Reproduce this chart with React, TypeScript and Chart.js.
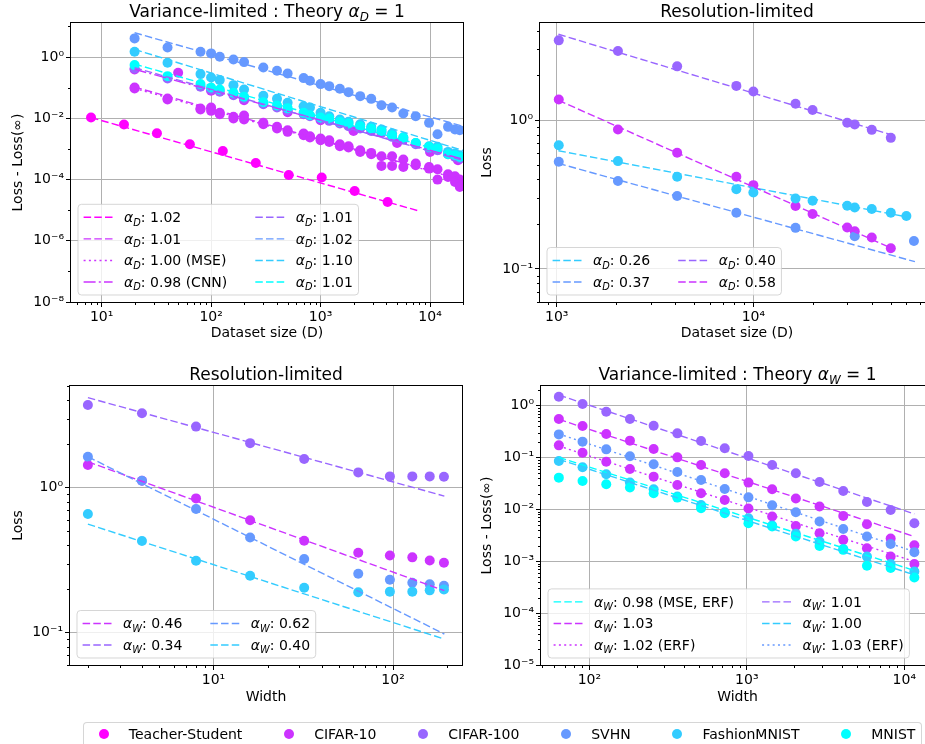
import React, { useEffect, useRef } from 'react';
import { Chart, registerables } from 'chart.js';

Chart.register(...registerables);

const FONT = '"DejaVu Sans", sans-serif';

// colours (matplotlib "cool" colormap, one per dataset)
const C_TS = '#ff00ff';
const C_C10 = '#cc33ff';
const C_C100 = '#9966ff';
const C_SVHN = '#6699ff';
const C_FMN = '#33ccff';
const C_MN = '#00ffff';

const legendNames = ['Teacher-Student', 'CIFAR-10', 'CIFAR-100', 'SVHN', 'FashionMNIST', 'MNIST'];
const legendColors = [C_TS, C_C10, C_C100, C_SVHN, C_FMN, C_MN];

// ---------- Top-left : variance-limited, dataset size ----------
const tlTeacherD = [8, 16, 32, 64, 128, 256, 512, 1024, 2048, 4096];
const tlTeacherLoss = [0.0106, 0.00627, 0.00327, 0.00143, 0.00086, 0.000349, 0.000141, 0.000116, 0.0000424, 0.0000185];
const tlD = [20, 40, 80, 100, 120, 160, 200, 300, 400, 500, 700, 800, 1000, 1200, 1500, 1800, 2300, 2900, 3600, 4500, 5700, 7400, 9800, 11700, 14600, 16900, 18700];
const tlCifar10 = [0.1018, 0.0444, 0.0209, 0.0226, 0.0151, 0.01117, 0.01235, 0.00711, 0.00526, 0.00409, 0.00318, 0.00261, 0.00218, 0.00193, 0.00143, 0.00122, 0.000906, 0.000742, 0.000577, 0.000577, 0.000449, 0.000332, 0.000258, 0.000217, 0.000149, 0.000128, 0.0000995];
const tlCifar10Mse = [0.0944, 0.0412, 0.0194, 0.01755, 0.01365, 0.00985, 0.00914, 0.00643, 0.00464, 0.00361, 0.00281, 0.00235, 0.00193, 0.0017, 0.00122, 0.00111, 0.0008, 0.000671, 0.000279, 0.000279, 0.000258, 0.000293, 0.000228, 0.0000995, 0.0001216, 0.0000835, 0.0000573];
const tlCnnD = [20, 50, 100, 200, 500, 1000, 2000, 5000, 10000, 18000];
const tlCifar10Cnn = [0.395, 0.307, 0.0792, 0.0392, 0.0159, 0.00869, 0.00389, 0.00157, 0.0008, 0.000427];
const tlCifar100 = [0.426, 0.2, 0.107, 0.0875, 0.0734, 0.0571, 0.0444, 0.029, 0.0226, 0.01845, 0.01365, 0.01175, 0.00961, 0.00826, 0.00676, 0.00553, 0.00464, 0.00389, 0.00335, 0.00248, 0.00202, 0.00143, 0.00103, 0.000906, 0.000671, 0.000549, 0.000484];
const tlSvhn = [4.08, 2.07, 1.49, 1.32, 1.03, 0.839, 0.686, 0.459, 0.357, 0.292, 0.206, 0.168, 0.131, 0.1125, 0.092, 0.0716, 0.053, 0.0433, 0.0269, 0.0226, 0.01436, 0.01175, 0.00711, 0.00303, 0.00526, 0.0043, 0.00409];
const tlFashion = [1.49, 0.653, 0.278, 0.216, 0.177, 0.1213, 0.0875, 0.0543, 0.0433, 0.0321, 0.0249, 0.0226, 0.0151, 0.01175, 0.00914, 0.00766, 0.00643, 0.00526, 0.0043, 0.00318, 0.00235, 0.00157, 0.00122, 0.00117, 0.0008, 0.000705, 0.000622];
const tlMnist = [0.547, 0.239, 0.131, 0.1018, 0.0875, 0.0681, 0.0504, 0.0337, 0.0262, 0.0215, 0.0151, 0.01267, 0.01062, 0.00985, 0.00766, 0.00676, 0.00553, 0.00464, 0.00389, 0.00281, 0.00235, 0.00157, 0.00117, 0.00103, 0.000671, 0.000622, 0.000549];
const tlFitLabels = ['1.02', '1.01', '1.00 (MSE)', '0.98 (CNN)', '1.01', '1.02', '1.10', '1.01'];
const tlFitColors = [C_TS, C_C10, C_C10, C_C10, C_C100, C_SVHN, C_FMN, C_MN];
const tlFitStyles = ['dash', 'dash', 'dot', 'dashdot', 'dash', 'dash', 'dash', 'dash'];
const tlFitX0 = [8, 20, 20, 20, 20, 20, 20, 20];
const tlFitX1 = [8000, 20000, 20000, 20000, 20000, 20000, 20000, 20000];
const tlFitY0 = [0.0106, 0.105, 0.095, 0.4, 0.45, 6.25, 1.78, 0.59];
const tlFitY1 = [0.0000093, 0.000098, 0.000095, 0.00046, 0.00042, 0.0055, 0.00089, 0.00055];

// ---------- Top-right : resolution-limited, dataset size ----------
const trD = [1024, 2048, 4096, 8192, 10000, 16384, 20000, 30000, 32768, 40000, 50000];
const trCifar10 = [1.377, 0.866, 0.604, 0.417, 0.366, 0.265, 0.234, 0.19, 0.179, 0.163, 0.138];
const trCifar100 = [3.44, 2.92, 2.3, 1.7, 1.56, 1.29, 1.17, 0.96, 0.935, 0.861, 0.761];
const trSvhnD = [1024, 2048, 4096, 8192, 16384, 32768, 65536];
const trSvhn = [0.525, 0.39, 0.309, 0.239, 0.189, 0.166, 0.154];
const trFashionD = [1024, 2048, 4096, 8192, 10000, 16384, 20000, 30000, 32768, 40000, 50000, 60000];
const trFashion = [0.679, 0.531, 0.417, 0.344, 0.327, 0.298, 0.288, 0.266, 0.259, 0.253, 0.239, 0.227];
const trFitLabels = ['0.26', '0.37', '0.40', '0.58'];
const trFitColors = [C_FMN, C_SVHN, C_C100, C_C10];
const trFitStyles = ['dash', 'dash', 'dash', 'dash'];
const trFitX0 = [1020, 1020, 1020, 1020];
const trFitX1 = [60400, 66300, 50400, 50400];
const trFitY0 = [0.623, 0.512, 3.78, 1.36];
const trFitY1 = [0.224, 0.112, 0.797, 0.138];

// ---------- Bottom-left : resolution-limited, width ----------
const blW = [2, 4, 8, 16, 32, 64, 96, 128, 160, 192];
const blCifar10 = [1.433, 1.118, 0.844, 0.596, 0.431, 0.356, 0.341, 0.331, 0.315, 0.304];
const blCifar100 = [3.72, 3.26, 2.64, 2.03, 1.58, 1.276, 1.197, 1.197, 1.197, 1.191];
const blSvhn = [1.636, 1.118, 0.713, 0.454, 0.322, 0.255, 0.232, 0.221, 0.216, 0.211];
const blFashion = [0.658, 0.429, 0.314, 0.247, 0.204, 0.19, 0.192, 0.192, 0.196, 0.199];
const blFitLabels = ['0.46', '0.34', '0.62', '0.40'];
const blFitColors = [C_C10, C_C100, C_SVHN, C_FMN];
const blFitStyles = ['dash', 'dash', 'dash', 'dash'];
const blFitX0 = [2, 2, 2, 2];
const blFitX1 = [193, 193, 193, 193];
const blFitY0 = [1.51, 4.18, 1.636, 0.561];
const blFitY1 = [0.195, 0.876, 0.098, 0.0904];

// ---------- Bottom-right : variance-limited, width ----------
const brW = [64, 90.5, 128, 181, 256, 362, 512, 724, 1024, 1448, 2048, 2896, 4096, 5793, 8192, 11585];
const brCifar10 = [0.553, 0.406, 0.285, 0.212, 0.146, 0.101, 0.072, 0.0498, 0.0329, 0.0245, 0.0162, 0.01135, 0.0075, 0.00518, 0.00274, 0.00204];
const brCifar10Erf = [0.172, 0.124, 0.0834, 0.0603, 0.0429, 0.0296, 0.0205, 0.0152, 0.0104, 0.00728, 0.00481, 0.00348, 0.00259, 0.00179, 0.00124, 0.00089];
const brCifar100 = [1.49, 1.08, 0.766, 0.553, 0.412, 0.293, 0.208, 0.151, 0.107, 0.072, 0.0498, 0.0339, 0.0227, 0.0139, 0.00977, 0.00542];
const brSvhnErf = [0.28, 0.203, 0.144, 0.106, 0.0741, 0.0528, 0.037, 0.0248, 0.0171, 0.012, 0.00881, 0.00583, 0.00421, 0.003, 0.00216, 0.0015];
const brFashion = [0.0859, 0.0649, 0.0475, 0.0329, 0.0245, 0.0177, 0.0122, 0.00881, 0.00676, 0.00488, 0.00338, 0.0024, 0.00173, 0.00123, 0.00089, 0.000635];
const brMnist = [0.041, 0.0354, 0.0305, 0.0264, 0.0205, 0.0169, 0.01054, 0.00843, 0.00542, 0.00467, 0.003, 0.00198, 0.00166, 0.00082, 0.00074, 0.000486];
const brFitLabels = ['0.98 (MSE, ERF)', '1.03', '1.02 (ERF)', '1.01', '1.00', '1.03 (ERF)'];
const brFitColors = [C_MN, C_C10, C_C10, C_C100, C_FMN, C_SVHN];
const brFitStyles = ['dash', 'dash', 'dot', 'dash', 'dash', 'dot'];
const brFitX0 = [64, 64, 64, 64, 64, 64];
const brFitX1 = [11585, 11585, 11585, 11585, 11585, 11585];
const brFitY0 = [0.101, 0.546, 0.167, 1.605, 0.0925, 0.285];
const brFitY1 = [0.000664, 0.003, 0.00099, 0.00819, 0.000547, 0.00154];

// ---------- helpers ----------
type Part = { t: string; k: 'n' | 'i' | 's' };
type Series = { xs: number[]; ys: number[]; color: string };
type Fits = { labels: string[]; colors: string[]; styles: string[]; x0: number[]; x1: number[]; y0: number[]; y1: number[] };
type PanelDef = {
  area: { left: number; top: number; right: number; bottom: number };
  xTitleY: number;
  yTitleX: number;
  xMin: number; xMax: number; yMin: number; yMax: number;
  xMajor: number[]; yMajor: number[]; xMinor: number[]; yMinor: number[];
  xTitle: string; yTitle: string;
  title: Part[];
  series: Series[];
  fits: Fits;
  sub: string;
};

const CANVAS_W = 960;
const CANVAS_H = 744;

function minorTicks(min: number, max: number): number[] {
  const out: number[] = [];
  for (let e = Math.floor(Math.log10(min)) - 1; e <= Math.ceil(Math.log10(max)); e++) {
    for (let s = 2; s <= 9; s++) {
      const v = s * Math.pow(10, e);
      if (v >= min && v <= max) out.push(v);
    }
  }
  return out;
}

const SUP: Record<string, string> = { '0': '⁰', '1': '¹', '2': '²', '3': '³', '4': '⁴', '5': '⁵', '6': '⁶', '7': '⁷', '8': '⁸', '9': '⁹', '-': '⁻' };
function decadeLabel(v: number): string {
  const e = Math.round(Math.log10(v));
  return '10' + String(e).split('').map((c) => SUP[c]).join('');
}

function dashFor(style: string): number[] {
  if (style === 'dot') return [2, 3.3];
  if (style === 'dashdot') return [12, 3.2, 2, 3.2];
  return [7.5, 3.2];
}

function fontFor(k: string, size: number): string {
  if (k === 'n') return `${size}px ${FONT}`;
  if (k === 'i') return `italic ${size}px ${FONT}`;
  return `italic ${(size * 0.7).toFixed(2)}px ${FONT}`;
}

function measureParts(ctx: CanvasRenderingContext2D, parts: Part[], size: number): number {
  let w = 0;
  for (const p of parts) {
    ctx.font = fontFor(p.k, size);
    w += ctx.measureText(p.t).width;
  }
  return w;
}

function drawParts(ctx: CanvasRenderingContext2D, parts: Part[], x: number, baseline: number, size: number) {
  let cx = x;
  ctx.textAlign = 'left';
  ctx.textBaseline = 'alphabetic';
  for (const p of parts) {
    ctx.font = fontFor(p.k, size);
    ctx.fillText(p.t, cx, baseline + (p.k === 's' ? size * 0.24 : 0));
    cx += ctx.measureText(p.t).width;
  }
}

function roundRect(ctx: CanvasRenderingContext2D, x: number, y: number, w: number, h: number, r: number) {
  ctx.beginPath();
  ctx.moveTo(x + r, y);
  ctx.lineTo(x + w - r, y);
  ctx.arcTo(x + w, y, x + w, y + r, r);
  ctx.lineTo(x + w, y + h - r);
  ctx.arcTo(x + w, y + h, x + w - r, y + h, r);
  ctx.lineTo(x + r, y + h);
  ctx.arcTo(x, y + h, x, y + h - r, r);
  ctx.lineTo(x, y + r);
  ctx.arcTo(x, y, x + r, y, r);
  ctx.closePath();
}

function makeDecor(def: PanelDef) {
  return {
    id: 'decor',
    afterDraw(chart: any) {
      const ctx: CanvasRenderingContext2D = chart.ctx;
      const a = chart.chartArea;
      const xs = chart.scales.x;
      const ys = chart.scales.y;
      ctx.save();
      // minor tick marks
      ctx.strokeStyle = '#000';
      ctx.lineWidth = 1;
      ctx.beginPath();
      for (const v of def.xMinor) {
        const px = Math.round(xs.getPixelForValue(v)) + 0.5;
        ctx.moveTo(px, a.bottom);
        ctx.lineTo(px, a.bottom + 3);
      }
      for (const v of def.yMinor) {
        const py = Math.round(ys.getPixelForValue(v)) + 0.5;
        ctx.moveTo(a.left, py);
        ctx.lineTo(a.left - 3, py);
      }
      ctx.stroke();
      // frame
      ctx.strokeStyle = '#000';
      ctx.lineWidth = 1;
      ctx.strokeRect(Math.round(a.left) - 0.5, Math.round(a.top) - 0.5, Math.round(a.right - a.left) + 1, Math.round(a.bottom - a.top) + 1);
      // title
      ctx.fillStyle = '#000';
      const tSize = 17;
      const tw = measureParts(ctx, def.title, tSize);
      drawParts(ctx, def.title, (a.left + a.right) / 2 - tw / 2, a.top - 6, tSize, );
      // legend of fits
      const f = def.fits;
      const n = f.labels.length;
      const nrows = Math.ceil(n / 2);
      const fs = 14;
      const pad = 5.6, handleLen = 29, handlePad = 11.5, colSpace = 28, rowH = 14.7, rowGap = 6.9;
      const labelParts = f.labels.map((l) => [
        { t: 'α', k: 'i' },
        { t: def.sub, k: 's' },
        { t: ': ' + l, k: 'n' },
      ] as Part[]);
      const widths = labelParts.map((p) => measureParts(ctx, p, fs));
      const col1W = Math.max(...widths.slice(0, nrows));
      const col2W = Math.max(...widths.slice(nrows));
      const boxW = pad * 2 + handleLen + handlePad + col1W + colSpace + handleLen + handlePad + col2W;
      const boxH = pad * 2 + nrows * rowH + (nrows - 1) * rowGap;
      const bx = a.left + 7;
      const by = a.bottom - 7 - boxH;
      roundRect(ctx, bx, by, boxW, boxH, 3.5);
      ctx.fillStyle = 'rgba(255,255,255,0.8)';
      ctx.fill();
      ctx.strokeStyle = 'rgba(204,204,204,0.8)';
      ctx.lineWidth = 1;
      ctx.stroke();
      for (let i = 0; i < n; i++) {
        const col = i < nrows ? 0 : 1;
        const row = i < nrows ? i : i - nrows;
        const hx = bx + pad + (col === 0 ? 0 : handleLen + handlePad + col1W + colSpace);
        const cy = by + pad + row * (rowH + rowGap) + rowH / 2;
        ctx.beginPath();
        ctx.setLineDash(dashFor(f.styles[i]));
        ctx.strokeStyle = f.colors[i];
        ctx.lineWidth = 1.4;
        ctx.moveTo(hx, cy);
        ctx.lineTo(hx + handleLen, cy);
        ctx.stroke();
        ctx.setLineDash([]);
        ctx.fillStyle = '#000';
        drawParts(ctx, labelParts[i], hx + handleLen + handlePad, cy + 5, fs);
      }
      ctx.restore();
    },
  };
}

function pts(xs: number[], ys: number[]) {
  return xs.map((x, i) => ({ x, y: ys[i] }));
}

const fitsOf = (labels: string[], colors: string[], styles: string[], x0: number[], x1: number[], y0: number[], y1: number[]): Fits => ({ labels, colors, styles, x0, x1, y0, y1 });

const panels: PanelDef[] = [
  {
    area: { left: 71, top: 23, right: 463, bottom: 302 },
    xTitleY: 333, yTitleX: 18,
    xMin: 5.25, xMax: 20000, yMin: 1e-8, yMax: 13,
    xMajor: [10, 100, 1000, 10000], yMajor: [1e-8, 1e-6, 1e-4, 1e-2, 1],
    xMinor: minorTicks(5.25, 20000), yMinor: [1e-7, 1e-5, 1e-3, 1e-1, 10],
    xTitle: 'Dataset size (D)', yTitle: 'Loss - Loss(∞)',
    title: [{ t: 'Variance-limited : Theory ', k: 'n' }, { t: 'α', k: 'i' }, { t: 'D', k: 's' }, { t: ' = 1', k: 'n' }],
    series: [
      { xs: tlTeacherD, ys: tlTeacherLoss, color: C_TS },
      { xs: tlD, ys: tlCifar10, color: C_C10 },
      { xs: tlD, ys: tlCifar10Mse, color: C_C10 },
      { xs: tlCnnD, ys: tlCifar10Cnn, color: C_C10 },
      { xs: tlD, ys: tlCifar100, color: C_C100 },
      { xs: tlD, ys: tlSvhn, color: C_SVHN },
      { xs: tlD, ys: tlFashion, color: C_FMN },
      { xs: tlD, ys: tlMnist, color: C_MN },
    ],
    fits: fitsOf(tlFitLabels, tlFitColors, tlFitStyles, tlFitX0, tlFitX1, tlFitY0, tlFitY1),
    sub: 'D',
  },
  {
    area: { left: 540, top: 23, right: 934, bottom: 302 },
    xTitleY: 333, yTitleX: 487,
    xMin: 822, xMax: 82900, yMin: 0.06, yMax: 4.5,
    xMajor: [1000, 10000], yMajor: [0.1, 1],
    xMinor: minorTicks(822, 82900), yMinor: minorTicks(0.06, 4.5),
    xTitle: 'Dataset size (D)', yTitle: 'Loss',
    title: [{ t: 'Resolution-limited', k: 'n' }],
    series: [
      { xs: trD, ys: trCifar10, color: C_C10 },
      { xs: trD, ys: trCifar100, color: C_C100 },
      { xs: trSvhnD, ys: trSvhn, color: C_SVHN },
      { xs: trFashionD, ys: trFashion, color: C_FMN },
    ],
    fits: fitsOf(trFitLabels, trFitColors, trFitStyles, trFitX0, trFitX1, trFitY0, trFitY1),
    sub: 'D',
  },
  {
    area: { left: 70, top: 386, right: 462, bottom: 665 },
    xTitleY: 697, yTitleX: 18,
    xMin: 1.59, xMax: 242, yMin: 0.0599, yMax: 5.03,
    xMajor: [10, 100], yMajor: [0.1, 1],
    xMinor: minorTicks(1.59, 242), yMinor: minorTicks(0.0599, 5.03),
    xTitle: 'Width', yTitle: 'Loss',
    title: [{ t: 'Resolution-limited', k: 'n' }],
    series: [
      { xs: blW, ys: blCifar10, color: C_C10 },
      { xs: blW, ys: blCifar100, color: C_C100 },
      { xs: blW, ys: blSvhn, color: C_SVHN },
      { xs: blW, ys: blFashion, color: C_FMN },
    ],
    fits: fitsOf(blFitLabels, blFitColors, blFitStyles, blFitX0, blFitX1, blFitY0, blFitY1),
    sub: 'W',
  },
  {
    area: { left: 541, top: 386, right: 934, bottom: 665 },
    xTitleY: 697, yTitleX: 487,
    xMin: 49.3, xMax: 15440, yMin: 1e-5, yMax: 2.4,
    xMajor: [100, 1000, 10000], yMajor: [1e-5, 1e-4, 1e-3, 1e-2, 1e-1, 1],
    xMinor: minorTicks(49.3, 15440), yMinor: minorTicks(1e-5, 2.4),
    xTitle: 'Width', yTitle: 'Loss - Loss(∞)',
    title: [{ t: 'Variance-limited : Theory ', k: 'n' }, { t: 'α', k: 'i' }, { t: 'W', k: 's' }, { t: ' = 1', k: 'n' }],
    series: [
      { xs: brW, ys: brCifar10, color: C_C10 },
      { xs: brW, ys: brCifar10Erf, color: C_C10 },
      { xs: brW, ys: brCifar100, color: C_C100 },
      { xs: brW, ys: brSvhnErf, color: C_SVHN },
      { xs: brW, ys: brFashion, color: C_FMN },
      { xs: brW, ys: brMnist, color: C_MN },
    ],
    fits: fitsOf(brFitLabels, brFitColors, brFitStyles, brFitX0, brFitX1, brFitY0, brFitY1),
    sub: 'W',
  },
];

function buildChart(canvas: HTMLCanvasElement, def: PanelDef) {
  const lh = 14 * 1.2;
  const padLeft = def.yTitleX - lh / 2;
  const yWidth = def.area.left - padLeft;
  const padBottom = CANVAS_H - def.xTitleY - lh / 2;
  const xHeight = CANVAS_H - padBottom - def.area.bottom;
  const datasets: any[] = [];
  def.series.forEach((s, i) => {
    datasets.push({
      data: pts(s.xs, s.ys),
      backgroundColor: s.color,
      borderColor: s.color,
      pointRadius: 5,
      pointHoverRadius: 5,
      pointBorderWidth: 0,
      showLine: false,
      clip: 0,
      order: -i,
    });
  });
  const f = def.fits;
  f.labels.forEach((_, i) => {
    datasets.push({
      data: [
        { x: f.x0[i], y: f.y0[i] },
        { x: f.x1[i], y: f.y1[i] },
      ],
      showLine: true,
      borderColor: f.colors[i],
      backgroundColor: f.colors[i],
      borderWidth: 1.4,
      borderDash: dashFor(f.styles[i]),
      pointRadius: 0,
      pointHoverRadius: 0,
      fill: false,
      clip: 0,
      order: -(100 + i),
    });
  });
  const tickFont = { family: FONT, size: 14 };
  return new Chart(canvas, {
    type: 'scatter',
    data: { datasets },
    options: {
      animation: false,
      responsive: false,
      maintainAspectRatio: false,
      devicePixelRatio: 1,
      events: [],
      layout: {
        padding: { left: padLeft, top: def.area.top, right: CANVAS_W - def.area.right, bottom: padBottom },
      },
      plugins: { legend: { display: false }, tooltip: { enabled: false }, title: { display: false } },
      scales: {
        x: {
          type: 'logarithmic',
          position: 'bottom',
          min: def.xMin,
          max: def.xMax,
          afterBuildTicks: (s: any) => {
            s.ticks = def.xMajor.map((v) => ({ value: v }));
          },
          afterFit: (s: any) => {
            s.height = xHeight;
          },
          ticks: {
            autoSkip: false,
            maxRotation: 0,
            minRotation: 0,
            padding: 2,
            color: '#000',
            font: tickFont,
            callback: (v: any) => decadeLabel(Number(v)),
          },
          grid: { color: '#b0b0b0', lineWidth: 1, tickLength: 5, tickColor: '#000', tickWidth: 1, drawTicks: true },
          border: { display: false },
          title: { display: true, text: def.xTitle, color: '#000', font: tickFont, padding: 0 },
        },
        y: {
          type: 'logarithmic',
          position: 'left',
          min: def.yMin,
          max: def.yMax,
          afterBuildTicks: (s: any) => {
            s.ticks = def.yMajor.map((v) => ({ value: v }));
          },
          afterFit: (s: any) => {
            s.width = yWidth;
          },
          ticks: {
            autoSkip: false,
            padding: 2,
            color: '#000',
            font: tickFont,
            callback: (v: any) => decadeLabel(Number(v)),
          },
          grid: { color: '#b0b0b0', lineWidth: 1, tickLength: 5, tickColor: '#000', tickWidth: 1, drawTicks: true },
          border: { display: false },
          title: { display: true, text: def.yTitle, color: '#000', font: tickFont, padding: 0 },
        },
      },
    } as any,
    plugins: [makeDecor(def)],
  });
}

function Panel({ def }: { def: PanelDef }) {
  const ref = useRef<HTMLCanvasElement | null>(null);
  useEffect(() => {
    if (!ref.current) return;
    const chart = buildChart(ref.current, def);
    return () => chart.destroy();
  }, [def]);
  return (
    <canvas
      ref={ref}
      width={CANVAS_W}
      height={CANVAS_H}
      style={{ position: 'absolute', left: 0, top: 0, width: CANVAS_W, height: CANVAS_H }}
    />
  );
}

export default function App() {
  return (
    <div
      style={{
        position: 'absolute',
        left: 0,
        top: 0,
        width: 925,
        height: 744,
        overflow: 'hidden',
        background: '#ffffff',
        fontFamily: FONT,
      }}
    >
      {panels.map((p, i) => (
        <Panel key={i} def={p} />
      ))}
      <div
        style={{
          position: 'absolute',
          left: 83,
          top: 722,
          width: 839,
          boxSizing: 'border-box',
          display: 'flex',
          justifyContent: 'space-between',
          alignItems: 'center',
          border: '1px solid rgba(204,204,204,0.8)',
          borderRadius: 4,
          background: 'rgba(255,255,255,0.8)',
          padding: '3px 5.6px 6px 5.6px',
          fontSize: 14,
          lineHeight: '16px',
          color: '#000',
        }}
      >
        {legendNames.map((name, i) => (
          <div key={name} style={{ display: 'flex', alignItems: 'center' }}>
            <span style={{ width: 28, display: 'flex', justifyContent: 'center' }}>
              <span style={{ width: 10, height: 10, borderRadius: '50%', background: legendColors[i], display: 'block' }} />
            </span>
            <span style={{ marginLeft: 11.2, whiteSpace: 'nowrap' }}>{name}</span>
          </div>
        ))}
      </div>
    </div>
  );
}
